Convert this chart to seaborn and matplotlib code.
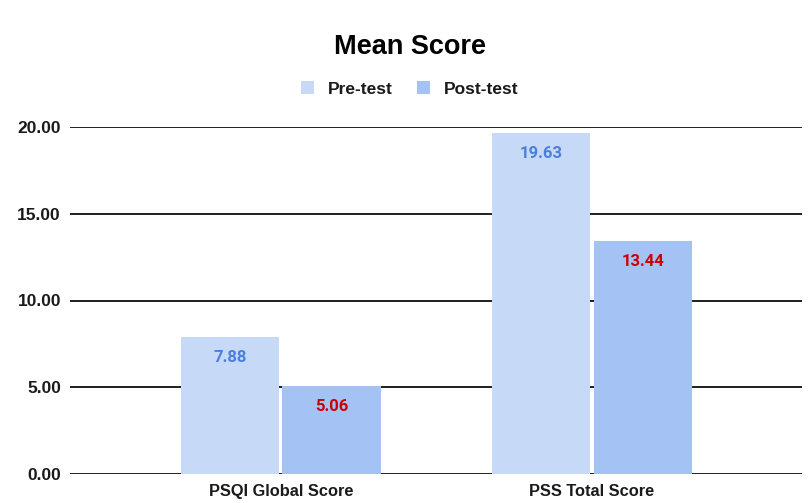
import matplotlib
matplotlib.use("Agg")
import matplotlib.pyplot as plt
import seaborn as sns
import pandas as pd
from matplotlib.patches import Patch

categories = ["PSQI Global Score", "PSS Total Score"]
groups = ["Pre-test", "Post-test"]
pre_values = [7.88, 19.63]
post_values = [5.06, 13.44]
yticks = [0, 5, 10, 15, 20]

bar_colors = ["#C6DAF8", "#A4C2F4"]
label_colors = ["#4A80DC", "#CC0000"]

df = pd.DataFrame({
    "category": categories * 2,
    "group": [groups[0]] * 2 + [groups[1]] * 2,
    "value": pre_values + post_values,
})

sns.set_theme(style="white")
plt.rcParams["font.family"] = ["Liberation Sans", "DejaVu Sans"]

fig = plt.figure(figsize=(8.09, 5.03), dpi=100)
ax = fig.add_axes([70 / 809, 1 - 474 / 503, 732 / 809, (474 - 127) / 503])

sns.barplot(data=df, x="category", y="value", hue="group", order=categories,
            hue_order=groups, palette=bar_colors, width=0.655, gap=0.03,
            saturation=1, ax=ax, legend=False, zorder=3, edgecolor="none")

ax.set_ylim(0, 20)
ax.set_xlim(-0.678, 1.675)
ax.set_yticks(yticks)
ax.set_yticklabels([f"{v:.2f}" for v in yticks], fontsize=12.5, fontweight="bold", color="#1a1a1a")
ax.set_xticks(range(len(categories)))
ax.set_xticklabels(categories, fontsize=11.8, fontweight="bold", color="#1a1a1a")
ax.tick_params(axis="y", length=0, pad=6.5)
ax.tick_params(axis="x", length=0, pad=7.5)
for v in yticks:
    ax.axhline(v, color="#1f1f1f", linewidth=1.4, zorder=1)
for s in ax.spines.values():
    s.set_visible(False)
ax.set_xlabel("")
ax.set_ylabel("")

for container, col in zip(ax.containers, label_colors):
    labels = [f"{v:.2f}" for v in container.datavalues]
    ax.bar_label(container, labels=labels, padding=-20, color=col,
                 fontsize=12, fontweight="bold", family=["Roboto", "DejaVu Sans"],
                 label_type="edge")

fig.text(410 / 809, 1 - 47 / 503, "Mean Score", ha="center", va="center",
         fontsize=19.5, fontweight="bold", color="#000000")

handles = [Patch(facecolor=c, edgecolor="none", label=g) for c, g in zip(bar_colors, groups)]
leg = fig.legend(handles=handles, loc="center", bbox_to_anchor=(410 / 809, 1 - 89 / 503),
                 ncol=2, frameon=False, handlelength=0.75, handleheight=0.75,
                 handletextpad=0.8, columnspacing=1.38,
                 prop={"weight": "bold", "size": 12.5})
for t in leg.get_texts():
    t.set_color("#1a1a1a")

fig.savefig("out.png", dpi=100)
